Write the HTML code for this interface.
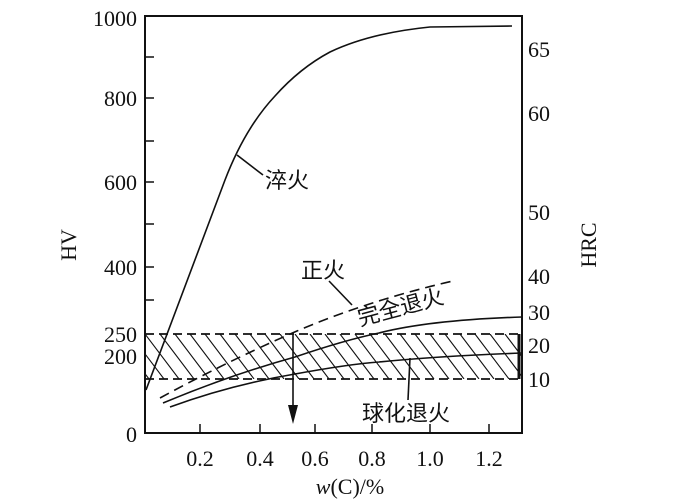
<!DOCTYPE html>
<html><head><meta charset="utf-8"><style>
html,body{margin:0;padding:0;background:#fff;}
svg{display:block;}
text{font-family:"Liberation Serif","Noto Serif CJK SC",serif;fill:#111;}
.cj{font-family:"Liberation Serif","Noto Sans CJK SC",sans-serif;}
</style></head><body>
<svg width="692" height="500" viewBox="0 0 692 500" xmlns="http://www.w3.org/2000/svg">
<defs>
<clipPath id="band"><rect x="145" y="334" width="376" height="45"/></clipPath>
</defs>
<g clip-path="url(#band)" stroke="#111" stroke-width="1.1">
<path d="M100 334 l34 45 M115 334 l34 45 M130 334 l34 45 M145 334 l34 45 M160 334 l34 45 M175 334 l34 45 M190 334 l34 45 M205 334 l34 45 M220 334 l34 45 M235 334 l34 45 M250 334 l34 45 M265 334 l34 45 M280 334 l34 45 M295 334 l34 45 M310 334 l34 45 M325 334 l34 45 M340 334 l34 45 M355 334 l34 45 M370 334 l34 45 M385 334 l34 45 M400 334 l34 45 M415 334 l34 45 M430 334 l34 45 M445 334 l34 45 M460 334 l34 45 M475 334 l34 45 M490 334 l34 45 M505 334 l34 45"/>
</g>
<g stroke="#111" stroke-width="1.8" stroke-dasharray="9,5" fill="none">
<line x1="145" y1="334" x2="521" y2="334"/>
<line x1="145" y1="379" x2="521" y2="379"/>
</g>
<line x1="519" y1="334" x2="519" y2="379" stroke="#111" stroke-width="3"/>
<rect x="145" y="16" width="377" height="417" fill="none" stroke="#111" stroke-width="2"/>
<g stroke="#111" stroke-width="1.5">
<path d="M145 57h9 M145 98h9 M145 141h9 M145 182h9 M145 224h9 M145 267h9 M145 300h9"/>
<path d="M200 433v-9 M260 433v-9 M315 433v-9 M372 433v-9 M430 433v-9 M489 433v-9"/>
</g>
<g fill="none" stroke="#111" stroke-width="1.6">
<path d="M146 390 L225 180 Q245 128 275 96 Q300 68 330 52 Q370 33 430 27 L512 26"/>
<path d="M163 403 Q230 375 295 357 Q345 340 379 333 Q430 320 522 317"/>
<path d="M170 407 Q230 385 295 374 Q350 364 379 362 Q440 356 522 353"/>
<path d="M160 398 Q230 360 297 331 Q370 300 453 281" stroke-dasharray="10,6"/>
<line x1="237" y1="155" x2="263" y2="175"/>
<line x1="329" y1="281" x2="352" y2="305"/>
<line x1="410" y1="358" x2="408" y2="400"/>
<line x1="293" y1="334" x2="293" y2="410"/>
</g>
<polygon points="288,405 298,405 293,424" fill="#111"/>
<g font-size="22" text-anchor="end">
<text x="137" y="26">1000</text>
<text x="137" y="106">800</text>
<text x="137" y="190">600</text>
<text x="137" y="275">400</text>
<text x="137" y="342">250</text>
<text x="137" y="364">200</text>
<text x="137" y="442">0</text>
</g>
<g font-size="22" text-anchor="middle">
<text x="200" y="466">0.2</text>
<text x="260" y="466">0.4</text>
<text x="315" y="466">0.6</text>
<text x="372" y="466">0.8</text>
<text x="430" y="466">1.0</text>
<text x="489" y="466">1.2</text>
</g>
<g font-size="22">
<text x="528" y="57">65</text>
<text x="528" y="121">60</text>
<text x="528" y="220">50</text>
<text x="528" y="284">40</text>
<text x="528" y="320">30</text>
<text x="528" y="353">20</text>
<text x="528" y="387">10</text>
</g>
<text font-size="22" transform="translate(76,245) rotate(-90)" text-anchor="middle">HV</text>
<text font-size="22" transform="translate(596,245) rotate(-90)" text-anchor="middle">HRC</text>
<text x="350" y="494" font-size="22" text-anchor="middle"><tspan font-style="italic">w</tspan>(C)/%</text>
<g class="cj" font-size="22">
<text class="cj" x="265" y="188">淬火</text>
<text class="cj" x="301" y="278">正火</text>
<text class="cj" x="362" y="421">球化退火</text>
<text class="cj" transform="translate(360,326) rotate(-15)">完全退火</text>
</g>
</svg>
</body></html>
